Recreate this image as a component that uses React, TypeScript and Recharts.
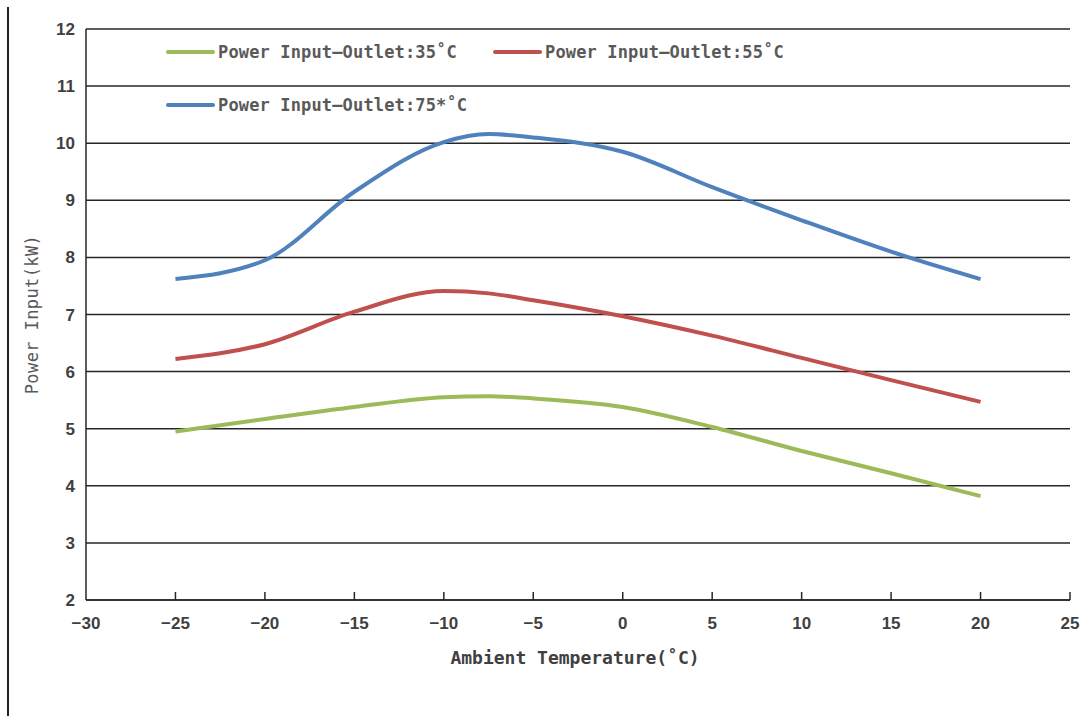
// PowerInputChart.tsx
import React from "react";
import {
  CartesianGrid,
  Label,
  Legend,
  Line,
  LineChart,
  XAxis,
  YAxis
} from "recharts";

// Ambient temperature (°C) and power input (kW)
const temps = [-25, -20, -15, -10, -7.5, -5, 0, 5, 10, 15, 20];
const outlet35 = [4.95, 5.17, 5.38, 5.55, 5.57, 5.53, 5.38, 5.03, 4.61, 4.22, 3.82];
const outlet55 = [6.22, 6.48, 7.05, 7.41, 7.37, 7.25, 6.97, 6.63, 6.24, 5.85, 5.47];
const outlet75 = [7.62, 7.95, 9.15, 10.02, 10.16, 10.1, 9.85, 9.23, 8.65, 8.1, 7.62];

const xTicks = [-30, -25, -20, -15, -10, -5, 0, 5, 10, 15, 20, 25];
const yTicks = [2, 3, 4, 5, 6, 7, 8, 9, 10, 11, 12];

const seriesNames = [
  "Power Input\u2014Outlet:35\u02daC",
  "Power Input\u2014Outlet:55\u02daC",
  "Power Input\u2014Outlet:75*\u02daC"
];
const seriesColors = ["#9BBB59", "#C0504D", "#4F81BD"];
const seriesKeys = ["s35", "s55", "s75"];

const xTitle = "Ambient Temperature(\u02daC)";
const yTitle = "Power Input(kW)";

const data = temps.map((t, i) => ({
  t,
  s35: outlet35[i],
  s55: outlet55[i],
  s75: outlet75[i]
}));

const axisColor = "#262626";
const monoFont = "'DejaVu Sans Mono', 'Liberation Mono', monospace";
const tickFont = "'Liberation Sans', Arial, sans-serif";

const fmt = (v: number) => (v < 0 ? "\u2212" + Math.abs(v) : String(v));

// bottom ticks point up into the plot, labels sit below
const XTick = (props: any) => {
  const { x, y, payload } = props;
  return (
    <g>
      {payload.value !== xTicks[0] && (
        <line x1={x} x2={x} y1={y} y2={y - 8} stroke={axisColor} strokeWidth={1.5} />
      )}
      <text
        x={x}
        y={y + 29}
        textAnchor="middle"
        fontFamily={tickFont}
        fontWeight="bold"
        fontSize={17}
        fill="#404040"
      >
        {fmt(payload.value)}
      </text>
    </g>
  );
};

// legend slots: [left, top]
const legendPos = [
  [166, 42],
  [493, 42],
  [166, 95]
];

const LegendBox = () => (
  <div style={{ position: "relative", width: 1089, height: 716 }}>
    {seriesNames.map((name, i) => (
      <div
        key={name}
        style={{
          position: "absolute",
          left: legendPos[i][0],
          top: legendPos[i][1],
          display: "flex",
          alignItems: "center",
          height: 20,
          whiteSpace: "nowrap"
        }}
      >
        <span
          style={{
            display: "inline-block",
            width: 49,
            height: 4,
            borderRadius: 2,
            background: seriesColors[i]
          }}
        />
        <span
          style={{
            marginLeft: 3,
            fontFamily: monoFont,
            fontWeight: "bold",
            fontSize: 17,
            letterSpacing: 0.15,
            color: "#595959"
          }}
        >
          {name}
        </span>
      </div>
    ))}
  </div>
);

export default function App() {
  return (
    <div style={{ position: "absolute", left: 0, top: 0, width: 1089, height: 716, background: "#fff" }}>
      <div
        style={{
          position: "absolute",
          left: 7,
          top: 7,
          width: 2,
          height: 709,
          background: "#222"
        }}
      />
      <LineChart
        width={1089}
        height={716}
        data={data}
        margin={{ top: 29, right: 19, bottom: 2, left: 0 }}
      >
        <CartesianGrid vertical={false} stroke={axisColor} strokeWidth={1.5} />
        <XAxis
          dataKey="t"
          type="number"
          domain={[-30, 25]}
          ticks={xTicks}
          interval={0}
          height={114}
          tickSize={0}
          tickMargin={0}
          tickLine={false}
          axisLine={{ stroke: axisColor, strokeWidth: 1.5 }}
          tick={<XTick />}
        >
          <Label
            content={(p: any) => {
              const vb = p.viewBox;
              return (
                <text
                  x={575}
                  y={vb.y + 57}
                  textAnchor="middle"
                  dominantBaseline="central"
                  fontFamily={monoFont}
                  fontWeight="bold"
                  fontSize={18}
                  fill="#404040"
                >
                  {xTitle}
                </text>
              );
            }}
          />
        </XAxis>
        <YAxis
          type="number"
          domain={[2, 12]}
          ticks={yTicks}
          interval={0}
          width={86}
          tickSize={0}
          tickMargin={11}
          tickLine={false}
          axisLine={{ stroke: axisColor, strokeWidth: 1.5 }}
          tick={{
            fontFamily: tickFont,
            fontWeight: "bold",
            fontSize: 17,
            fill: "#404040"
          }}
        >
          <Label
            content={(p: any) => {
              const vb = p.viewBox;
              const cy = vb.y + vb.height / 2;
              return (
                <text
                  x={32}
                  y={cy}
                  transform={`rotate(-90, 32, ${cy})`}
                  textAnchor="middle"
                  dominantBaseline="central"
                  fontFamily={monoFont}
                  fontSize={17}
                  letterSpacing={0.4}
                  fill="#595959"
                >
                  {yTitle}
                </text>
              );
            }}
          />
        </YAxis>
        <Legend
          layout="vertical"
          align="center"
          verticalAlign="middle"
          wrapperStyle={{ left: 0, top: 0, width: 1089, height: 716, pointerEvents: "none" }}
          content={() => <LegendBox />}
        />
        {seriesKeys.map((k, i) => (
          <Line
            key={k}
            type="monotone"
            dataKey={k}
            name={seriesNames[i]}
            stroke={seriesColors[i]}
            strokeWidth={4}
            dot={false}
            activeDot={false}
            isAnimationActive={false}
          />
        ))}
      </LineChart>
    </div>
  );
}
